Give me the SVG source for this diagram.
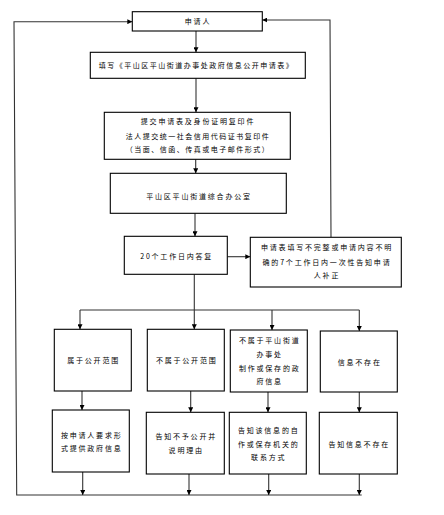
<svg xmlns="http://www.w3.org/2000/svg" width="444" height="515" viewBox="0 0 444 515">
<style>
rect{fill:#fff;stroke:#000;stroke-width:1.1}
text{font-family:"Noto Sans CJK SC","Liberation Sans",sans-serif;font-size:7px;letter-spacing:1.8px;text-anchor:middle;fill:#000}
.t15{letter-spacing:1.5px}
.c line,.c path{stroke:#333;stroke-width:1.1;fill:none}
.c .a{marker-end:url(#ah)}
</style>
<defs>
<marker id="ah" markerUnits="userSpaceOnUse" markerWidth="5" markerHeight="5" viewBox="0 0 10 10" refX="10" refY="5" orient="auto">
<path d="M0,0 L10,5 L0,10 z" fill="#000"/>
</marker>
</defs>
<rect x="0" y="0" width="444" height="515" style="stroke:none;fill:#fff"/>
<g class="c" id="connectors">
<line class="a" x1="196" y1="31" x2="196" y2="52.3"/>
<line class="a" x1="196" y1="78.3" x2="196" y2="112.3"/>
<line class="a" x1="195.7" y1="159.3" x2="195.7" y2="173.3"/>
<line class="a" x1="195" y1="213.3" x2="195" y2="236.3"/>
<line class="a" x1="227.3" y1="256.7" x2="250.3" y2="256.7"/>
<path class="a" d="M331,237.3 L330,20 L262.3,20"/>
<path class="a" d="M361.7,495 L16.7,495 L14,21.7 L132.3,21.7"/>
<line x1="194.3" y1="274.3" x2="194.3" y2="310"/>
<line x1="80" y1="310" x2="359.3" y2="310"/>
<line class="a" x1="80" y1="310" x2="80" y2="329.3"/>
<line class="a" x1="194.3" y1="310" x2="194.3" y2="329.3"/>
<line class="a" x1="272" y1="310" x2="272" y2="330"/>
<line class="a" x1="359.3" y1="310" x2="359.3" y2="331"/>
<line class="a" x1="82" y1="391" x2="82" y2="410"/>
<line class="a" x1="190.7" y1="391" x2="190.7" y2="412.3"/>
<line class="a" x1="268" y1="392" x2="268" y2="412.3"/>
<line class="a" x1="359.3" y1="392" x2="359.3" y2="412.3"/>
<line class="a" x1="82.7" y1="472" x2="82.7" y2="495"/>
<line class="a" x1="189" y1="474" x2="189" y2="495"/>
<line class="a" x1="268.7" y1="474" x2="268.7" y2="495"/>
<line class="a" x1="359.3" y1="474" x2="359.3" y2="495"/>
</g>
<g id="n-applicant"><rect x="132.3" y="11.7" width="130" height="19.3"/><text x="198" y="24">申请人</text></g>
<g id="n-fill"><rect x="90.3" y="52.3" width="215" height="26"/><text class="t15" x="196.5" y="67.5">填写《平山区平山街道办事处政府信息公开申请表》</text></g>
<g id="n-submit"><rect x="104.3" y="112.3" width="186" height="47"/>
<text x="198" y="124.2">提交申请表及身份证明复印件</text>
<text class="t15" x="198" y="138.5">法人提交统一社会信用代码证书复印件</text>
<text class="t15" x="198" y="151.5">（当面、信函、传真或电子邮件形式）</text></g>
<g id="n-office"><rect x="110.3" y="173.3" width="176" height="40"/><text x="199" y="199.2">平山区平山街道综合办公室</text></g>
<g id="n-reply"><rect x="124.3" y="236.3" width="103" height="38"/><text x="176.7" y="258.5">20个工作日内答复</text></g>
<g id="n-correct"><rect x="250.3" y="237.3" width="151" height="49.7"/>
<text x="327" y="250.2">申请表填写不完整或申请内容不明</text>
<text x="327" y="264.8">确的7个工作日内一次性告知申请</text>
<text x="327" y="277.5">人补正</text></g>
<g id="n-b1"><rect x="54.3" y="329.3" width="77" height="61.7"/><text x="93.6" y="362.5">属于公开范围</text></g>
<g id="n-b2"><rect x="147.3" y="329.3" width="77" height="61.7"/><text x="186.7" y="363.2">不属于公开范围</text></g>
<g id="n-b3"><rect x="230.3" y="330" width="77" height="62"/>
<text x="269.7" y="343.2">不属于平山街道</text>
<text x="269.7" y="356.5">办事处</text>
<text x="269.7" y="370.8">制作或保存的政</text>
<text x="269.7" y="383.5">府信息</text></g>
<g id="n-b4"><rect x="320.3" y="331" width="77" height="61"/><text x="359.7" y="364.8">信息不存在</text></g>
<g id="n-c1"><rect x="52.3" y="410" width="77" height="62"/>
<text x="91.7" y="437.8">按申请人要求形</text>
<text x="91.7" y="450.8">式提供政府信息</text></g>
<g id="n-c2"><rect x="146.3" y="412.3" width="78" height="61.7"/>
<text x="186.2" y="438.5">告知不予公开并</text>
<text x="186.2" y="452.5">说明理由</text></g>
<g id="n-c3"><rect x="229.3" y="412.3" width="77" height="61.7"/>
<text x="268.7" y="432.8">告知该信息的自</text>
<text x="268.7" y="446.8">作或保存机关的</text>
<text x="268.7" y="459.5">联系方式</text></g>
<g id="n-c4"><rect x="319.3" y="412.3" width="78" height="61.7"/><text x="359.2" y="446.5">告知信息不存在</text></g>
</svg>
